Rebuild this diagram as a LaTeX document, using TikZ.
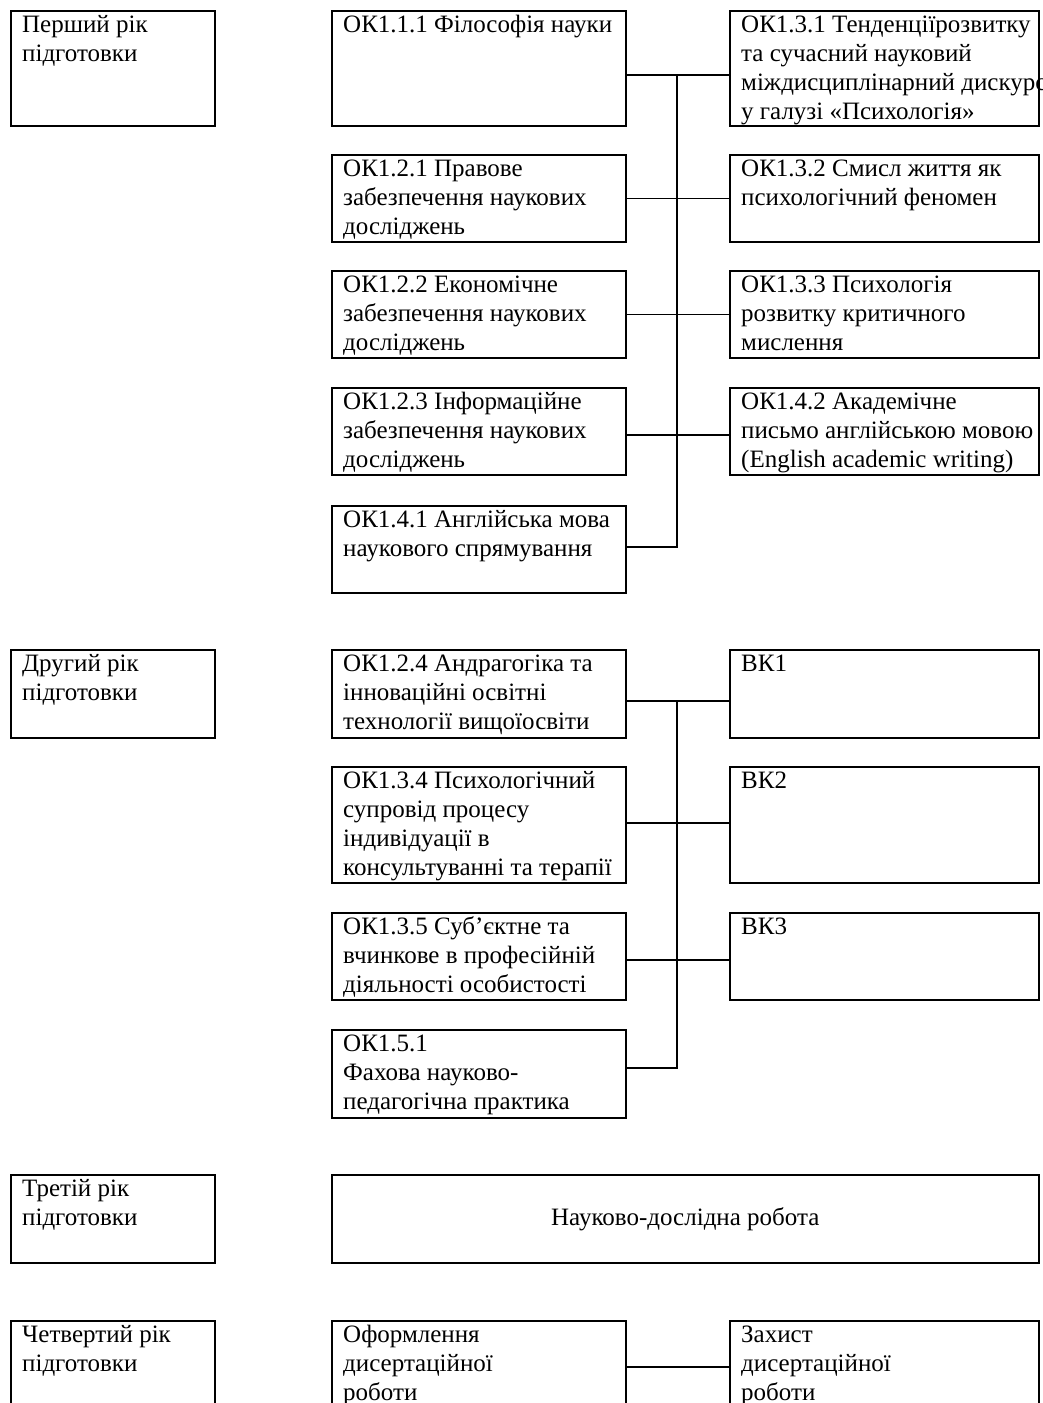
\documentclass[tikz,border=0pt]{standalone}
\usepackage{fontspec}
\setmainfont{Liberation Serif}
\newcommand{\bt}[1]{\parbox[t]{420pt}{\fontsize{25}{29}\selectfont\raggedright #1}}
\tikzset{
  box/.style={draw=black, line width=1.6pt, anchor=north west, inner sep=0pt},
  txt/.style={anchor=base west, inner sep=0pt},
  conn/.style={draw=black, line width=1.4pt}
}
\newcommand{\bx}[7]{%
  \node[box, minimum width=#4pt, minimum height=#5pt] (#1) at (#2,#3) {};
  \node[txt] (#1t) at ([shift={(12pt,-22pt)}]#1.north west) {\bt{#6}};
}
\begin{document}
\begin{tikzpicture}[x=1pt,y=-1pt]
\useasboundingbox (0,0) rectangle (1043,1403);
% left column
\bx{y1}{10}{10}{204}{115}{Перший рік\\підготовки}{}
\bx{y2}{10}{649}{204}{88}{Другий рік\\підготовки}{}
\bx{y3}{10}{1174}{204}{88}{Третій рік\\підготовки}{}
\bx{y4}{10}{1320}{204}{100}{Четвертий рік\\підготовки}{}
% middle column
\bx{m1}{331}{10}{294}{115}{ОК1.1.1 Філософія науки}{}
\bx{m2}{331}{154}{294}{87}{ОК1.2.1 Правове\\забезпечення наукових\\досліджень}{}
\bx{m3}{331}{270}{294}{87}{ОК1.2.2 Економічне\\забезпечення наукових\\досліджень}{}
\bx{m4}{331}{387}{294}{87}{ОК1.2.3 Інформаційне\\забезпечення наукових\\досліджень}{}
\bx{m5}{331}{505}{294}{87}{ОК1.4.1 Англійська мова\\наукового спрямування}{}
\bx{m6}{331}{649}{294}{88}{ОК1.2.4 Андрагогіка та\\інноваційні освітні\\технології вищоїосвіти}{}
\bx{m7}{331}{766}{294}{116}{ОК1.3.4 Психологічний\\супровід процесу\\індивідуації в\\консультуванні та терапії}{}
\bx{m8}{331}{912}{294}{87}{ОК1.3.5 Суб’єктне та\\вчинкове в професійній\\діяльності особистості}{}
\bx{m9}{331}{1029}{294}{88}{ОК1.5.1\\Фахова науково-\\педагогічна практика}{}
\node[box, minimum width=707pt, minimum height=88pt] (nd) at (331,1174) {};
\node[inner sep=0pt] (ndt) at (nd.center) {\fontsize{25}{29}\selectfont Науково-дослідна робота};
\bx{m10}{331}{1320}{294}{100}{Оформлення\\дисертаційної\\роботи}{}
% right column
\bx{r1}{729}{10}{309}{115}{ОК1.3.1 Тенденціїрозвитку\\та сучасний науковий\\міждисциплінарний дискурс\\у галузі «Психологія»}{}
\bx{r2}{729}{154}{309}{87}{ОК1.3.2 Смисл життя як\\психологічний феномен}{}
\bx{r3}{729}{270}{309}{87}{ОК1.3.3 Психологія\\розвитку критичного\\мислення}{}
\bx{r4}{729}{387}{309}{87}{ОК1.4.2 Академічне\\письмо англійською мовою\\(English academic writing)}{}
\bx{v1}{729}{649}{309}{88}{ВК1}{}
\bx{v2}{729}{766}{309}{116}{ВК2}{}
\bx{v3}{729}{912}{309}{87}{ВК3}{}
\bx{r10}{729}{1320}{309}{100}{Захист\\дисертаційної\\роботи}{}
% connectors, first year
\coordinate (ta) at (677,74);
\draw[conn] ([yshift=-6.5pt]m1.east) -- ([yshift=-6.5pt]r1.west);
\draw[conn] (m2.east) -- (r2.west);
\draw[conn] (m3.east) -- (r3.west);
\draw[conn] ([yshift=-3.5pt]m4.east) -- ([yshift=-3.5pt]r4.west);
\draw[conn] ([yshift=2.5pt]m5.east) -| (ta);
% connectors, second year
\coordinate (sa) at (677,700);
\draw[conn] ([yshift=-7pt]m6.east) -- ([yshift=-7pt]v1.west);
\draw[conn] ([yshift=2pt]m7.east) -- ([yshift=2pt]v2.west);
\draw[conn] ([yshift=-3.5pt]m8.east) -- ([yshift=-3.5pt]v3.west);
\draw[conn] ([yshift=6pt]m9.east) -| (sa);
% fourth year
\draw[conn] ([yshift=4pt]m10.east) -- ([yshift=4pt]r10.west);
\end{tikzpicture}
\end{document}
